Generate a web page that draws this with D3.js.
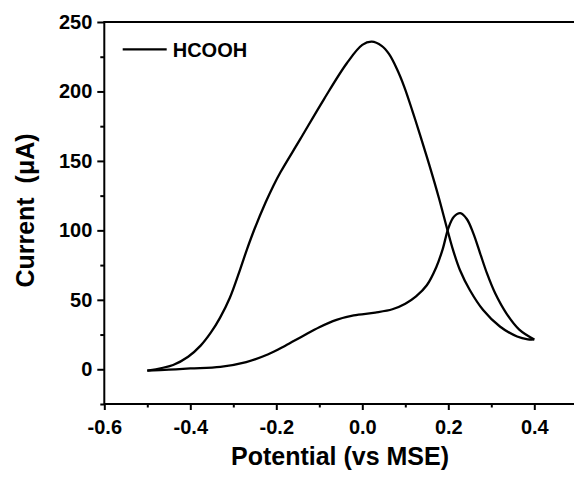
<!DOCTYPE html>
<html>
<head>
<meta charset="utf-8">
<script src="https://cdn.jsdelivr.net/npm/d3@7"></script>
<style>
  html, body { margin: 0; padding: 0; background: #fff; overflow: hidden; }
  text { font-family: "Liberation Sans", Arial, sans-serif; font-weight: bold; fill: #000; }
</style>
</head>
<body>
<svg id="chart" width="574" height="479"></svg>
<script>
// ---- data ----
const forwardPotential = [-0.5, -0.45, -0.4, -0.33, -0.27, -0.22, -0.18, -0.14, -0.1, -0.06, -0.02, 0.03, 0.07, 0.1, 0.125, 0.15, 0.172, 0.187, 0.2, 0.213, 0.228, 0.243, 0.258, 0.274, 0.29, 0.309, 0.335, 0.365, 0.4];
const forwardCurrent   = [-1, -0.3, 0.6, 1.8, 5.2, 10.6, 16.8, 23.6, 30.3, 35.6, 38.8, 40.8, 43.2, 47.2, 52.5, 60.5, 73.5, 86.5, 101.5, 109.8, 112.4, 108.2, 98.0, 83.5, 69.0, 54.7, 40.3, 28.6, 21.5];

const reversePotential = [0.4, 0.385, 0.36, 0.32, 0.281, 0.25, 0.227, 0.211, 0.198, 0.178, 0.157, 0.135, 0.117, 0.098, 0.08, 0.062, 0.045, 0.022, 0.0, -0.036, -0.09, -0.145, -0.19, -0.207, -0.225, -0.25, -0.268, -0.284, -0.308, -0.331, -0.352, -0.376, -0.405, -0.44, -0.5];
const reverseCurrent   = [21.5, 21.6, 23.6, 30.8, 42.7, 57.1, 71.5, 85.9, 100.3, 123.5, 145.9, 168.0, 185.5, 203.0, 216.5, 227.0, 232.8, 235.8, 233.5, 220.3, 194.0, 165.3, 142.0, 132.0, 120.0, 101.5, 86.5, 72.0, 51.5, 37.0, 26.5, 17.0, 9.0, 3.1, -1];

const xTickValues = [-0.6, -0.4, -0.2, 0.0, 0.2, 0.4];
const xTickLabels = ["-0.6", "-0.4", "-0.2", "0.0", "0.2", "0.4"];
const xMinorTicks = [-0.5, -0.3, -0.1, 0.1, 0.3];
const yTickValues = [0, 50, 100, 150, 200, 250];
const yTickLabels = ["0", "50", "100", "150", "200", "250"];
const yMinorTicks = [-25, 25, 75, 125, 175, 225];

const seriesName = "HCOOH";
const xTitle = "Potential (vs MSE)";
const yTitle = "Current  (\u03bcA)";

// ---- layout ----
const svg = d3.select("#chart");
const plotLeft = 104.3, plotRight = 577.3, plotTop = 22, plotBottom = 404;

const x = d3.scaleLinear().domain([-0.6, 0.5]).range([plotLeft, plotRight]);
const y = d3.scaleLinear().domain([-25, 250]).range([plotBottom, plotTop]);

// frame
svg.append("rect")
  .attr("x", plotLeft).attr("y", plotTop)
  .attr("width", plotRight - plotLeft).attr("height", plotBottom - plotTop)
  .attr("fill", "none").attr("stroke", "#000").attr("stroke-width", 2);

// x axis
const xAxis = d3.axisBottom(x)
  .tickValues(xTickValues)
  .tickFormat((d, i) => xTickLabels[i])
  .tickSize(6).tickPadding(10);
const gx = svg.append("g").attr("transform", `translate(0,${plotBottom})`).call(xAxis);
gx.select(".domain").remove();
gx.selectAll(".tick line").attr("stroke", "#000").attr("stroke-width", 2);
gx.selectAll(".tick text").style("font-size", "20px").style("font-family", "'Liberation Sans', Arial, sans-serif").style("font-weight", "bold");

const gxm = svg.append("g").attr("transform", `translate(0,${plotBottom})`)
  .call(d3.axisBottom(x).tickValues(xMinorTicks).tickSize(3.5).tickFormat(""));
gxm.select(".domain").remove();
gxm.selectAll(".tick line").attr("stroke", "#000").attr("stroke-width", 2);

// y axis
const yAxis = d3.axisLeft(y)
  .tickValues(yTickValues)
  .tickFormat((d, i) => yTickLabels[i])
  .tickSize(7).tickPadding(5);
const gy = svg.append("g").attr("transform", `translate(${plotLeft},0)`).call(yAxis);
gy.select(".domain").remove();
gy.selectAll(".tick line").attr("stroke", "#000").attr("stroke-width", 2);
gy.selectAll(".tick text").style("font-size", "20px").style("font-family", "'Liberation Sans', Arial, sans-serif").style("font-weight", "bold");

const gym = svg.append("g").attr("transform", `translate(${plotLeft},0)`)
  .call(d3.axisLeft(y).tickValues(yMinorTicks).tickSize(4).tickFormat(""));
gym.select(".domain").remove();
gym.selectAll(".tick line").attr("stroke", "#000").attr("stroke-width", 2);

// curves
const line = d3.line()
  .x(d => x(d[0])).y(d => y(d[1]))
  .curve(d3.curveCatmullRom.alpha(0.5));

const fwd = forwardPotential.map((p, i) => [p, forwardCurrent[i]]);
const rev = reversePotential.map((p, i) => [p, reverseCurrent[i]]);

svg.append("path").datum(fwd).attr("d", line)
  .attr("fill", "none").attr("stroke", "#000").attr("stroke-width", 2.3)
  .attr("stroke-linejoin", "round");
svg.append("path").datum(rev).attr("d", line)
  .attr("fill", "none").attr("stroke", "#000").attr("stroke-width", 2.3)
  .attr("stroke-linejoin", "round");

// legend
svg.append("line")
  .attr("x1", 122.7).attr("x2", 166.7).attr("y1", 49.3).attr("y2", 49.3)
  .attr("stroke", "#000").attr("stroke-width", 2.3);
svg.append("text")
  .attr("x", 172.7).attr("y", 56.8)
  .style("font-size", "20px")
  .text(seriesName);

// axis titles
svg.append("text")
  .attr("x", 340).attr("y", 465)
  .attr("text-anchor", "middle")
  .style("font-size", "25px")
  .text(xTitle);

svg.append("text")
  .attr("transform", `translate(34,210.5) rotate(-90)`)
  .attr("text-anchor", "middle")
  .style("font-size", "25px")
  .style("white-space", "pre")
  .text(yTitle);
</script>
</body>
</html>
